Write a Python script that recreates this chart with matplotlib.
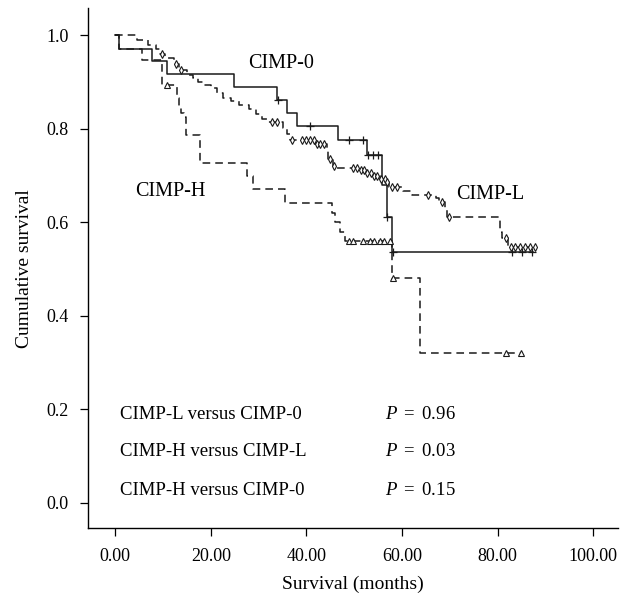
import numpy as np
import matplotlib.pyplot as plt

plt.rcParams['font.family'] = ['Liberation Serif', 'DejaVu Serif']
plt.rcParams['mathtext.fontset'] = 'custom'
plt.rcParams['mathtext.it'] = 'Liberation Serif:italic'
plt.rcParams['mathtext.rm'] = 'Liberation Serif'

# CIMP-0 (solid line, + censored)
c0_time = [0, 0.8, 7.7, 10.9, 24.9, 33.8, 35.9, 38.0, 46.7, 52.6, 55.8, 56.8, 57.8, 87.4]
c0_surv = [1.0, 0.971, 0.946, 0.918, 0.890, 0.862, 0.834, 0.806, 0.776, 0.745, 0.680, 0.612, 0.537, 0.537]
c0_cens = [34.0, 40.8, 49.0, 51.9, 52.9, 54.0, 55.0, 56.8, 58.2, 83.0, 85.0, 87.2]

# CIMP-L (dashed line, diamond censored)
cl_time = [0, 4.5, 6.8, 8.6, 9.4, 10.5, 12.3, 13.4, 15.0, 16.2, 17.4, 18.6, 20.0, 21.2, 22.6,
           24.3, 26.0, 28.0, 29.5, 30.8, 31.8, 35.0, 36.0, 36.5, 41.8, 44.2, 44.6, 45.5, 46.0,
           51.2, 52.4, 53.8, 55.3, 56.7, 57.3, 60.2, 62.0, 67.0, 67.8, 68.9, 69.4, 80.5, 80.9,
           82.2, 87.8]
cl_surv = [1.0, 0.99, 0.98, 0.97, 0.96, 0.952, 0.94, 0.927, 0.915, 0.908, 0.901, 0.894, 0.887,
           0.876, 0.866, 0.859, 0.852, 0.842, 0.832, 0.822, 0.815, 0.802, 0.789, 0.776, 0.768,
           0.752, 0.736, 0.721, 0.716, 0.712, 0.706, 0.699, 0.692, 0.687, 0.675, 0.667, 0.659,
           0.652, 0.644, 0.628, 0.612, 0.58, 0.566, 0.548, 0.548]
cl_cens = [9.8, 12.8, 13.8, 32.7, 33.8, 36.9, 39.0, 40.0, 40.7, 41.5, 42.2, 42.9, 43.6, 44.9,
           45.8, 49.8, 50.6, 51.4, 52.0, 52.7, 53.4, 54.1, 54.8, 55.7, 56.4, 56.9, 57.8, 58.9,
           65.5, 68.3, 69.8, 81.7, 82.7, 83.6, 84.6, 85.7, 86.7, 87.8]

# CIMP-H (dashed line, triangle censored)
ch_time = [0, 0.8, 5.6, 9.8, 12.9, 13.4, 13.8, 14.3, 14.8, 17.8, 27.5, 28.8, 35.5, 45.3, 46.0,
           47.0, 48.0, 57.9, 63.7, 85.3]
ch_surv = [1.0, 0.972, 0.948, 0.893, 0.867, 0.844, 0.835, 0.826, 0.787, 0.726, 0.700, 0.672,
           0.641, 0.620, 0.600, 0.580, 0.559, 0.480, 0.320, 0.320]
ch_cens = [10.8, 48.8, 49.8, 51.9, 53.2, 54.2, 55.3, 56.3, 57.4, 58.1, 81.7, 84.8]

comparisons = ['CIMP-L versus CIMP-0', 'CIMP-H versus CIMP-L', 'CIMP-H versus CIMP-0']
pvalues = ['0.96', '0.03', '0.15']

x_ticks = [0, 20, 40, 60, 80, 100]
y_ticks = [0.0, 0.2, 0.4, 0.6, 0.8, 1.0]


def level_at(times, surv, cens):
    idx = np.searchsorted(np.array(times), np.array(cens), side='right') - 1
    return np.array(surv)[idx]


fig = plt.figure(figsize=(6.31, 5.99), dpi=100)
ax = fig.add_axes([0.14, 0.118, 0.839, 0.868])

lc = '#1a1a1a'
ax.step(c0_time, c0_surv, where='post', color=lc, lw=1.1)
ax.plot(c0_cens, level_at(c0_time, c0_surv, c0_cens), ls='none', marker='+',
        ms=6, mew=0.9, color=lc)

l1, = ax.step(cl_time, cl_surv, where='post', color=lc, lw=1.1)
l1.set_dashes((5, 3.3))
ax.plot(cl_cens, level_at(cl_time, cl_surv, cl_cens), ls='none', marker='d',
        ms=4.2, mew=0.8, mfc='white', mec=lc)

l2, = ax.step(ch_time, ch_surv, where='post', color=lc, lw=1.1)
l2.set_dashes((5, 3.3))
ax.plot(ch_cens, level_at(ch_time, ch_surv, ch_cens), ls='none', marker='^',
        ms=4, mew=0.8, mfc='white', mec=lc)

ax.text(34.7, 0.941, 'CIMP-0', fontsize=14.5, ha='center', va='center')
ax.text(11.5, 0.667, 'CIMP-H', fontsize=14.5, ha='center', va='center')
ax.text(78.5, 0.659, 'CIMP-L', fontsize=14.5, ha='center', va='center')

for i, (c, p) in enumerate(zip(comparisons, pvalues)):
    yy = [0.188, 0.109, 0.027][i]
    ax.text(1.0, yy, c, fontsize=13.5, ha='left', va='center')
    ax.text(56.4, yy, '$P\\ =\\ \\mathrm{' + p + '}$', fontsize=13.5, ha='left', va='center')

ax.set_xlim(-5.6, 105.1)
ax.set_ylim(-0.055, 1.058)
ax.set_xticks(x_ticks)
ax.set_xticklabels(['%.2f' % v for v in x_ticks])
ax.set_yticks(y_ticks)
ax.set_yticklabels(['%.1f' % v for v in y_ticks])
ax.tick_params(direction='out', length=6, width=0.9, labelsize=13, pad=8)
for s in ['top', 'right']:
    ax.spines[s].set_visible(False)
for s in ['left', 'bottom']:
    ax.spines[s].set_linewidth(1.0)
ax.set_xlabel('Survival (months)', fontsize=14, labelpad=8)
ax.set_ylabel('Cumulative survival', fontsize=14, labelpad=10)

fig.savefig('out.png', dpi=100)
